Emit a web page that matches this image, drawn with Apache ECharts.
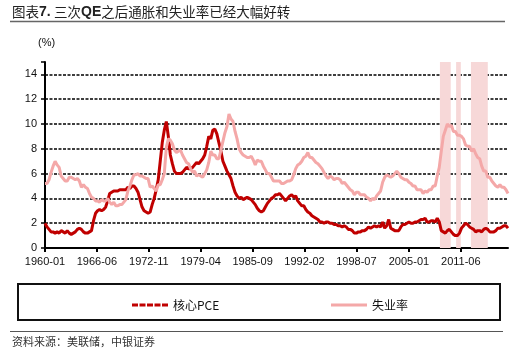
<!DOCTYPE html>
<html>
<head>
<meta charset="utf-8">
<script src="https://cdn.jsdelivr.net/npm/echarts@6/dist/echarts.min.js"></script>
<style>
html,body{margin:0;padding:0;background:#fff;}
#c{width:532px;height:360px;}
</style>
</head>
<body>
<div id="c"></div>
<script>
// Monthly category labels 1960-01 .. 2017-04
var startYear = 1960, monthCount = 688;
var categories = [];
for (var i = 0; i < monthCount; i++) {
  var y = startYear + Math.floor(i / 12), m = i % 12 + 1;
  categories.push(y + '-' + (m < 10 ? '0' + m : m));
}
var xTickLabels = ['1960-01','1966-06','1972-11','1979-04','1985-09','1992-02','1998-07','2005-01','2011-06'];
// Quarterly readings (Jan, Apr, Jul, Oct) from 1960 to 2017-04
var corePCE = [
  2.0,1.7,1.5,1.3, 1.3,1.2,1.3,1.2, 1.4,1.3,1.2,1.4, 1.2,1.1,1.2,1.3, 1.5,1.6,1.5,1.3,
  1.2,1.2,1.3,1.4, 2.2,2.8,3.0,3.1, 3.0,3.1,3.3,3.8, 4.4,4.5,4.6,4.6, 4.6,4.7,4.7,4.7,
  4.7,4.9,4.8,5.0, 5.0,4.8,4.5,3.9, 3.3,3.0,2.9,2.8, 2.9,3.5,4.0,4.7, 5.5,7.0,8.5,9.5,
  10.2,9.0,7.5,6.8, 6.2,6.0,6.0,6.0, 6.1,6.3,6.5,6.4, 6.4,6.5,6.7,6.9, 6.8,7.0,7.2,7.5,
  8.2,9.0,8.8,9.5, 9.6,9.2,8.5,7.8, 7.0,6.6,6.2,5.9, 5.6,5.0,4.5,4.2, 4.0,4.1,3.9,4.0,
  4.1,4.0,3.9,3.7, 3.5,3.2,3.0,2.9, 3.0,3.3,3.6,3.8, 4.0,4.1,4.3,4.3, 4.4,4.2,4.0,3.8,
  4.0,4.2,4.3,4.1, 4.2,3.8,3.6,3.4, 3.4,3.1,2.9,2.8, 2.6,2.5,2.4,2.3, 2.1,2.1,2.0,2.1,
  2.1,2.0,2.0,1.9, 1.9,1.8,1.8,1.7, 1.8,1.7,1.5,1.5, 1.4,1.2,1.2,1.3, 1.3,1.4,1.4,1.5,
  1.7,1.6,1.7,1.8, 1.7,1.8,1.7,2.1, 1.6,1.8,2.3,1.6, 1.5,1.4,1.4,1.4, 1.7,1.9,1.9,2.0,
  2.1,2.0,2.0,2.1, 2.1,2.2,2.3,2.3, 2.4,2.1,2.1,2.2, 2.2,2.1,2.4,2.1, 1.4,1.3,1.2,1.4,
  1.5,1.3,1.1,1.0, 1.0,1.2,1.6,1.8, 2.0,1.9,1.7,1.6, 1.5,1.3,1.4,1.4, 1.3,1.5,1.6,1.5,
  1.3,1.3,1.3,1.4, 1.6,1.6,1.7,1.8, 1.8,1.6
];
var unemployment = [
  5.2,5.2,5.5,6.1, 6.6,7.0,6.7,6.5, 5.8,5.6,5.4,5.4, 5.7,5.7,5.6,5.5, 5.6,5.4,4.9,5.1,
  4.9,4.8,4.4,4.1, 4.0,3.8,3.8,3.7, 3.9,3.8,3.8,4.0, 3.7,3.5,3.7,3.4, 3.4,3.5,3.5,3.7,
  3.9,4.6,5.0,5.5, 5.9,5.9,6.0,5.8, 5.8,5.7,5.6,5.6, 4.9,5.0,4.8,4.6, 5.1,5.1,5.5,6.0,
  8.1,8.8,8.7,8.4, 7.9,7.7,7.8,7.9, 7.5,7.2,6.9,6.8, 6.4,6.1,6.2,5.8, 5.9,5.8,5.7,6.0,
  6.3,6.9,7.8,7.5, 7.5,7.2,7.2,7.9, 8.6,9.3,9.8,10.8, 10.4,10.2,9.4,8.8, 8.0,7.7,7.5,7.4,
  7.3,7.3,7.4,7.1, 6.7,7.1,7.0,7.0, 6.6,6.3,6.0,6.0, 5.7,5.4,5.4,5.4, 5.4,5.2,5.2,5.3,
  5.4,5.4,5.5,5.9, 6.4,6.7,6.8,7.0, 7.3,7.4,7.7,7.3, 7.3,7.1,6.9,6.8, 6.6,6.4,6.1,5.8,
  5.6,5.8,5.7,5.5, 5.6,5.6,5.5,5.2, 5.3,5.1,4.9,4.7, 4.6,4.3,4.5,4.5, 4.3,4.3,4.3,4.1,
  4.0,3.8,4.0,3.9, 4.2,4.4,4.6,5.3, 5.7,5.9,5.8,5.7, 5.8,6.0,6.2,6.0, 5.7,5.6,5.5,5.5,
  5.3,5.2,5.0,5.0, 4.7,4.7,4.7,4.4, 4.6,4.5,4.7,4.7, 5.0,5.0,5.8,6.5, 7.8,9.0,9.5,10.0,
  9.8,9.9,9.4,9.4, 9.1,9.1,9.0,8.8, 8.3,8.2,8.2,7.8, 8.0,7.6,7.3,7.2, 6.6,6.2,6.2,5.7,
  5.7,5.4,5.2,5.0, 4.9,5.1,4.9,4.9, 4.7,4.4
];
var monthsPerReading = 3;
// QE periods (shaded)
var qePeriods = [['2008-11','2010-03'],['2010-11','2011-06'],['2012-09','2014-10']];
var yTicks = [0,2,4,6,8,10,12,14];
var seriesNames = ['核心PCE','失业率'];

function toPairs(arr){ return arr.map(function(v,i){ return [i*monthsPerReading, v]; }); }
function isTick(idx, val){ return xTickLabels.indexOf(val) >= 0; }

var chart = echarts.init(document.getElementById('c'), null, {renderer:'canvas'});
var gridColors = ['rgba(0,0,0,0)'];
for (var k = 1; k < yTicks.length; k++) gridColors.push('#000');
gridColors.push('rgba(0,0,0,0)');

var dashIcon = 'path://M0,0h6v3h-6zM7.5,0h6v3h-6zM15,0h6v3h-6zM22.5,0h6v3h-6zM30,0h6v3h-6z';
var solidIcon = 'path://M0,0h36v3h-36z';

chart.setOption({
  animation:false,
  backgroundColor:'#fff',
  textStyle:{fontFamily:'Liberation Sans, Arial, sans-serif'},
  grid:{left:45,right:24,top:62,bottom:112,containLabel:false},
  graphic:[
    {type:'text',left:12,top:5,style:{
      rich:{n:{fontFamily:'Noto Sans CJK SC',fontSize:13.5,fill:'#222'},b:{fontFamily:'Liberation Sans',fontWeight:'bold',fontSize:14,fill:'#222'}},
      text:'{n|图表}{b|7.} {n|三次}{b|QE}{n|之后通胀和失业率已经大幅好转}'}},
    {type:'line',shape:{x1:10,y1:21.5,x2:505,y2:21.5},style:{stroke:'#666',lineWidth:1.5}},
    {type:'text',left:38,top:37,style:{text:'(%)',font:'11px Liberation Sans',fill:'#111'}},
    {type:'rect',shape:{x:18,y:284,width:482,height:36},style:{fill:'none',stroke:'#111',lineWidth:2}},
    {type:'line',shape:{x1:10,y1:331.5,x2:503,y2:331.5},style:{stroke:'#555',lineWidth:1}},
    {type:'text',left:12,top:336,style:{text:'资料来源：美联储，中银证券',font:'11px "Noto Sans CJK SC"',fill:'#333'}}
  ],
  legend:[
    {left:127,top:294,itemWidth:36,itemHeight:3,itemGap:6,selectedMode:false,
     textStyle:{fontFamily:'Noto Sans CJK SC',fontSize:12,color:'#111'},
     data:[{name:seriesNames[0],icon:dashIcon,itemStyle:{color:'#c00000'}}]},
    {left:326,top:294,itemWidth:36,itemHeight:3,selectedMode:false,
     textStyle:{fontFamily:'Noto Sans CJK SC',fontSize:12,color:'#111'},
     data:[{name:seriesNames[1],icon:solidIcon,itemStyle:{color:'#f4a8a8'}}]}
  ],
  xAxis:{
    type:'category',data:categories,boundaryGap:false,
    axisLine:{lineStyle:{color:'#000',width:2}},
    axisTick:{show:true,interval:isTick,length:4,lineStyle:{color:'#000',width:2}},
    axisLabel:{interval:isTick,color:'#111',fontSize:11,margin:8,fontFamily:'Liberation Sans'},
    splitLine:{show:false}
  },
  yAxis:{
    type:'value',min:0,max:15,interval:2,
    axisLine:{show:true,lineStyle:{color:'#000',width:2}},
    axisTick:{show:true,length:4,lineStyle:{color:'#000',width:1.5}},
    axisLabel:{color:'#111',fontSize:11,margin:8,fontFamily:'Liberation Sans',
      formatter:function(v){ return yTicks.indexOf(v) >= 0 ? String(v) : ''; }},
    splitLine:{show:true,lineStyle:{color:gridColors,type:[3,1.5],width:1.5}}
  },
  series:[
    {name:seriesNames[0],type:'line',data:toPairs(corePCE),symbol:'none',
     lineStyle:{color:'#c00000',width:3},itemStyle:{color:'#c00000'},z:3,
     markArea:{silent:true,itemStyle:{color:'#f7d8d8'},
       data:qePeriods.map(function(p){ return [{xAxis:p[0]},{xAxis:p[1]}]; })}},
    {name:seriesNames[1],type:'line',data:toPairs(unemployment),symbol:'none',
     lineStyle:{color:'#f4a8a8',width:3},itemStyle:{color:'#f4a8a8'},z:4}
  ]
});
</script>
</body>
</html>
